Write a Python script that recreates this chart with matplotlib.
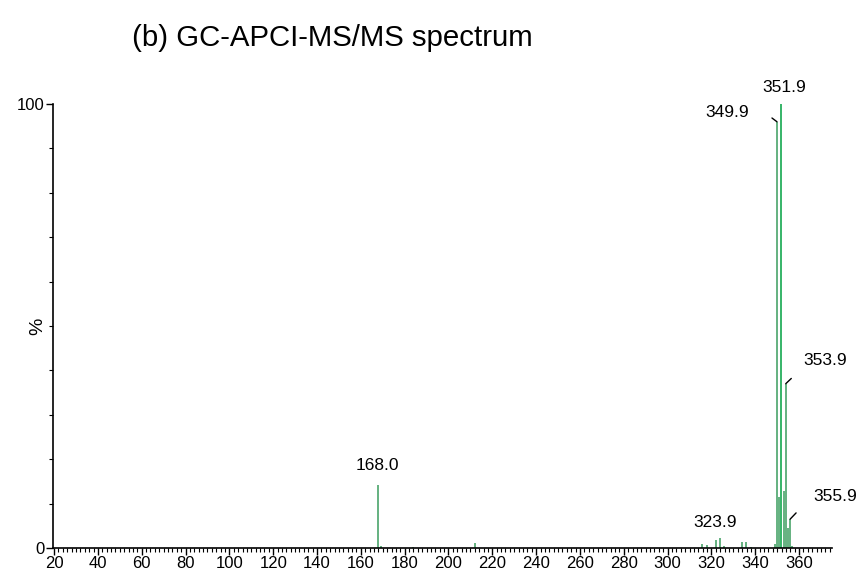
import matplotlib
matplotlib.use("Agg")
import matplotlib.pyplot as plt
from matplotlib.ticker import MultipleLocator

# peak list (m/z, relative intensity %)
mz = [168.0, 169.0, 184.0, 212.0, 315.9, 317.9, 321.9, 323.9, 325.9,
      333.9, 335.9, 337.9, 348.9, 349.9, 350.9, 351.9, 352.9, 353.9,
      354.9, 355.9, 356.9]
intensity = [14.2, 0.5, 0.3, 1.1, 0.8, 0.6, 1.7, 2.2, 0.4,
             1.4, 1.4, 0.3, 0.8, 96.0, 11.5, 100.0, 12.9, 37.0,
             4.5, 6.5, 0.5]

# labelled peaks
label_mz = [168.0, 323.9, 349.9, 351.9, 353.9, 355.9]
label_text = ["168.0", "323.9", "349.9", "351.9", "353.9", "355.9"]

plt.rcParams['font.family'] = ['Liberation Sans', 'DejaVu Sans']

fig = plt.figure(figsize=(8.57, 5.73), dpi=100)
ax = fig.add_axes([0.0618, 0.0436, 0.909, 0.7749])

colors = ['#00a040' if i == max(intensity) else '#3a9d5e' for i in intensity]
ax.vlines(mz, 0, intensity, colors=colors, lw=1.1)

ax.set_xlim(19.5, 375)
ax.set_ylim(0, 100)
for s in ['top', 'right']:
    ax.spines[s].set_visible(False)
ax.spines['left'].set_linewidth(1.2)
ax.spines['bottom'].set_linewidth(1.2)

ax.set_xticks(range(20, 361, 20))
ax.xaxis.set_minor_locator(MultipleLocator(2))
ax.set_yticks([0, 100])
ax.yaxis.set_minor_locator(MultipleLocator(10))
ax.tick_params(axis='both', which='major', length=5, width=1, labelsize=12, pad=1)
ax.tick_params(axis='both', which='minor', length=3, width=0.8)
ax.set_ylabel('%', fontsize=14)
ax.yaxis.set_label_coords(-0.008, 0.5)

# label offsets in points from the peak top, and short leader lines
offsets = {"168.0": (-0.7, 13.9), "323.9": (-3.6, 11.2), "349.9": (-35.8, 6.5),
           "351.9": (2.2, 12.2), "353.9": (28.2, 16.6), "355.9": (32.2, 16.0)}
leaders = {"349.9": (-3.6, 2.7), "353.9": (4.0, 3.8), "355.9": (4.3, 4.5)}
for m, t in zip(label_mz, label_text):
    h = intensity[mz.index(m)]
    ax.annotate(t, xy=(m, h), xytext=offsets[t], textcoords='offset points',
                ha='center', va='center', fontsize=12.5, annotation_clip=False)
    if t in leaders:
        ax.annotate('', xy=(m, h), xytext=leaders[t], textcoords='offset points',
                    arrowprops=dict(arrowstyle='-', lw=1.0, color='black',
                                    shrinkA=0, shrinkB=0),
                    annotation_clip=False)

fig.text(0.154, 0.934, '(b) GC-APCI-MS/MS spectrum', fontsize=21.2,
         ha='left', va='center')

fig.savefig('out.png', dpi=100)
